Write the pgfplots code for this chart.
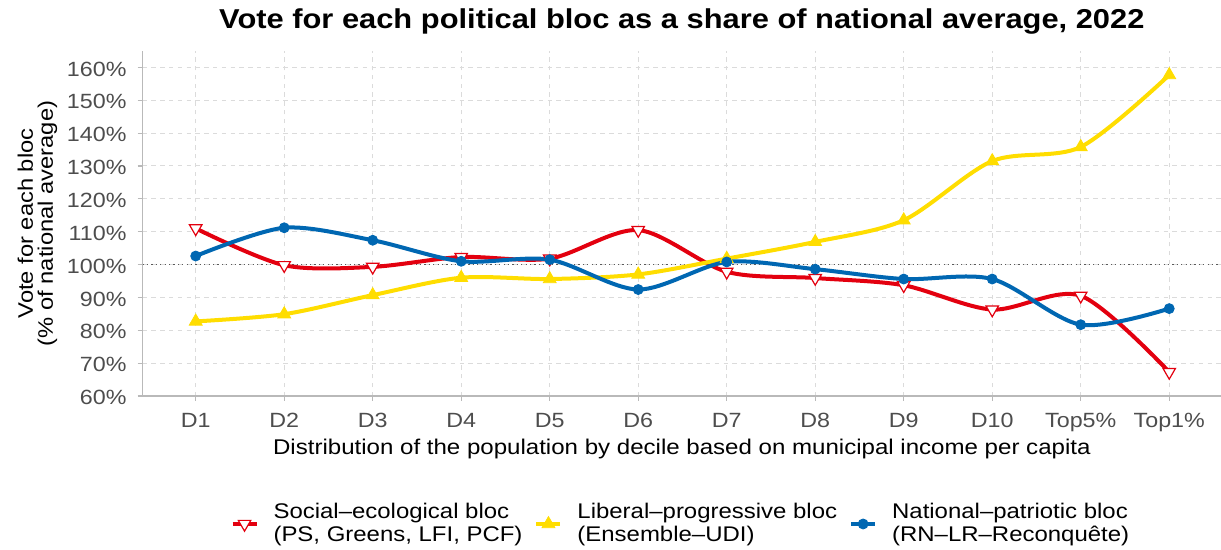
\documentclass[border=0pt]{standalone}
\usepackage{fontspec}
\setmainfont{Liberation Sans}[FakeStretch=1.13]
\usepackage{pgfplots}
\pgfplotsset{compat=1.18}
\definecolor{cred}{RGB}{227,0,15}
\definecolor{cyel}{RGB}{255,221,0}
\definecolor{cblue}{RGB}{0,103,178}
\definecolor{tickgray}{RGB}{77,77,77}
\begin{document}
\begin{tikzpicture}
\begin{axis}[
  scale only axis, width=539.15pt, height=172.5pt,
  xmin=-0.599, xmax=11.585, ymin=60, ymax=165,
  axis lines*=left,
  axis line style={draw=gray!55, line width=0.8pt},
  xtick={0,...,11},
  xticklabels={D1,D2,D3,D4,D5,D6,D7,D8,D9,D10,Top5\%,Top1\%},
  ytick={60,70,...,160},
  yticklabel={\pgfmathprintnumber{\tick}\%},
  /pgf/number format/assume math mode=true,
  tick align=outside, major tick length=2.5pt,
  tick style={draw=gray!55, line width=0.6pt},
  grid=major, grid style={dash pattern=on 2.2pt off 2.2pt, draw=gray!28, line width=0.5pt},
  tick label style={font=\fontsize{10.3}{12}\selectfont, text=tickgray},
  xticklabel style={anchor=base, yshift=-13.5pt},
  yticklabel style={anchor=east, inner sep=0pt, xshift=-5.4pt, yshift=-0.8pt},
  title={Vote for each political bloc as a share of national average, 2022},
  title style={font=\fontsize{13.65}{16}\selectfont\bfseries, at={(0.5,1)}, anchor=base, yshift=5pt},
  xlabel={Distribution of the population by decile based on municipal income per capita},
  xlabel style={font=\fontsize{10.65}{12}\selectfont, at={(0.5,0)}, anchor=base, yshift=-29.5pt},
  ylabel={Vote for each bloc\\(\% of national average)},
  ylabel style={font=\fontsize{10.5}{10}\selectfont, align=center, at={(-0.0976,0.5)}, anchor=center},
  legend columns=3,
  legend style={at={(0.5,-0.371)}, anchor=center, draw=none, font=\fontsize{10.6}{11.75}\selectfont,
    cells={align=left},
    /tikz/every even column/.append style={column sep=4pt},
    /tikz/every odd column/.append style={column sep=5.5pt}},
  legend cell align=left,
  legend image code/.code={\draw[mark repeat=2,mark phase=2] plot coordinates {(0pt,0pt)(6pt,0pt)(12pt,0pt)};},
]
\addplot[forget plot, dash pattern=on 0.6pt off 1.6pt, draw=gray!70!black, line width=0.7pt] coordinates {(-0.599,100) (11.585,100)};
\addplot[cred, line width=2pt, smooth, tension=0.5, mark=triangle*, mark options={rotate=180, fill=white, draw=cred, line width=0.6pt, mark size=3.6pt}]
 coordinates {(0,111.0)(1,99.8)(2,99.3)(3,102.3)(4,101.8)(5,110.5)(6,97.8)(7,95.9)(8,93.7)(9,86.3)(10,90.5)(11,67.3)};
\addlegendentry{Social–ecological bloc\\(PS, Greens, LFI, PCF)}
\addplot[cyel, line width=2pt, smooth, tension=0.5, mark=triangle*, mark options={fill=cyel, draw=cyel, line width=0.4pt, mark size=3.7pt}]
 coordinates {(0,82.7)(1,84.9)(2,90.7)(3,96.0)(4,95.6)(5,97.0)(6,101.8)(7,106.9)(8,113.5)(9,131.5)(10,135.8)(11,157.7)};
\addlegendentry{Liberal–progressive bloc\\(Ensemble–UDI)}
\addplot[cblue, line width=2pt, smooth, tension=0.5, mark=*, mark options={fill=cblue, draw=cblue, line width=0.4pt, mark size=2.5pt}]
 coordinates {(0,102.6)(1,111.2)(2,107.4)(3,101.0)(4,101.5)(5,92.4)(6,100.8)(7,98.6)(8,95.6)(9,95.6)(10,81.7)(11,86.6)};
\addlegendentry{National–patriotic bloc\\(RN–LR–Reconquête)}
\end{axis}
\pgfresetboundingbox
\path (current axis.south west) ++(-71.35pt,-77pt) rectangle ++(610.5pt,275pt);
\end{tikzpicture}
\end{document}
